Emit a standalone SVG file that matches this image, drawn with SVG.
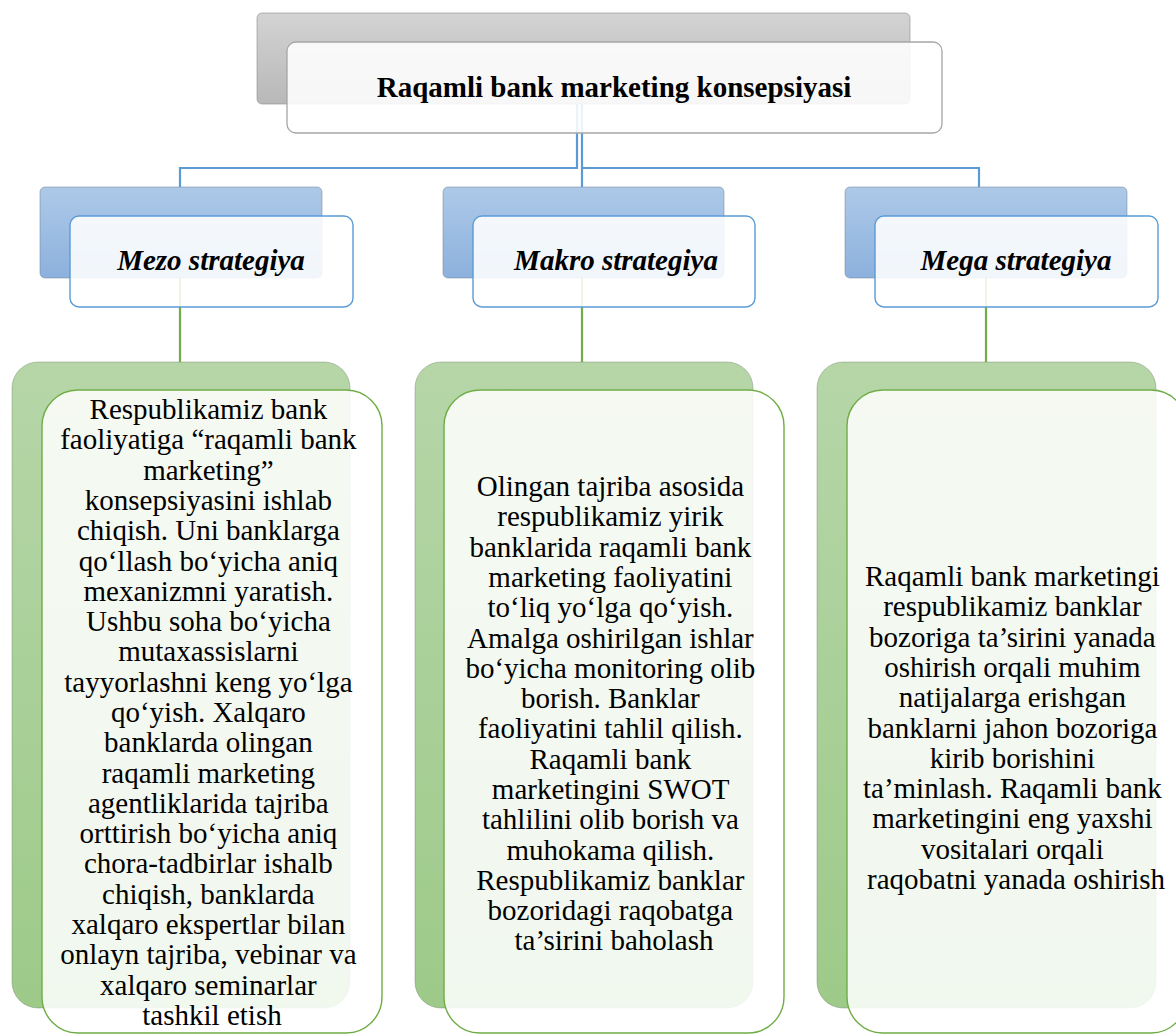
<svg xmlns="http://www.w3.org/2000/svg" width="1176" height="1035" viewBox="0 0 1176 1035">
  <defs>
    <linearGradient id="gGray" x1="0" y1="0" x2="0" y2="1">
      <stop offset="0" stop-color="#d3d3d3"/>
      <stop offset="1" stop-color="#b8b8b8"/>
    </linearGradient>
    <linearGradient id="gBlue" x1="0" y1="0" x2="0" y2="1">
      <stop offset="0" stop-color="#adc9e8"/>
      <stop offset="1" stop-color="#8cb1dd"/>
    </linearGradient>
    <linearGradient id="gGreen" x1="0" y1="0" x2="0" y2="1">
      <stop offset="0" stop-color="#b6d6a8"/>
      <stop offset="1" stop-color="#9dca89"/>
    </linearGradient>
  </defs>
  <style>
    .back-gray { fill: url(#gGray); stroke: #8c8c8c; stroke-width: 1; stroke-opacity: 0.6; }
    .back-blue { fill: url(#gBlue); stroke: #6f7f90; stroke-width: 1; stroke-opacity: 0.5; }
    .back-green { fill: url(#gGreen); stroke: #5f6f58; stroke-width: 1; stroke-opacity: 0.35; }
    .front-gray { fill: #ffffff; fill-opacity: 0.88; stroke: #a6a6a6; stroke-width: 1.3; }
    .front-blue { fill: #ffffff; fill-opacity: 0.88; stroke: #5b9bd5; stroke-width: 1.4; }
    .front-green { fill: #ffffff; fill-opacity: 0.86; stroke: #70ad47; stroke-width: 1.4; }
    .link-blue { fill: none; stroke: #5b9bd5; stroke-width: 2.2; }
    .link-green { fill: none; stroke: #70ad47; stroke-width: 2.2; }
    .title { font-family: "Liberation Serif", "Times New Roman", serif; font-size: 29px; font-weight: bold; fill: #000; text-anchor: middle; }
    .strat { font-family: "Liberation Serif", "Times New Roman", serif; font-size: 29px; font-weight: bold; font-style: italic; fill: #000; text-anchor: middle; }
    .body { font-family: "Liberation Serif", "Times New Roman", serif; font-size: 29px; fill: #000; text-anchor: middle; }
  </style>

  <!-- back plates -->
  <g id="plates">
    <rect class="back-gray" x="257" y="13" width="653" height="91" rx="5"/>
    <rect class="back-blue" x="40" y="187" width="282" height="91" rx="5"/>
    <rect class="back-blue" x="443" y="187" width="281" height="91" rx="5"/>
    <rect class="back-blue" x="845" y="187" width="282" height="91" rx="5"/>
    <rect class="back-green" x="12" y="362" width="338" height="646" rx="26"/>
    <rect class="back-green" x="415" y="362" width="338" height="646" rx="26"/>
    <rect class="back-green" x="817" y="362" width="339" height="646" rx="26"/>
  </g>

  <!-- connectors -->
  <g id="connectors">
    <path class="link-blue" d="M577,104 V168 H180 V187"/>
    <path class="link-blue" d="M582,104 V187"/>
    <path class="link-blue" d="M582,168 H979 V187"/>
    <path class="link-green" d="M180,278 V362"/>
    <path class="link-green" d="M582,278 V362"/>
    <path class="link-green" d="M986,278 V362"/>
  </g>

  <g id="root">
    <rect class="front-gray" x="287" y="42" width="655" height="91" rx="9"/>
    <text class="title" x="614" y="97">Raqamli bank marketing konsepsiyasi</text>
  </g>

  <g id="mezo">
    <rect class="front-blue" x="70" y="216" width="283" height="91" rx="9"/>
    <text class="strat" x="211" y="270">Mezo strategiya</text>
  </g>

  <g id="makro">
    <rect class="front-blue" x="473" y="216" width="282" height="91" rx="9"/>
    <text class="strat" x="616" y="270">Makro strategiya</text>
  </g>

  <g id="mega">
    <rect class="front-blue" x="875" y="216" width="283" height="91" rx="9"/>
    <text class="strat" x="1016" y="270">Mega strategiya</text>
  </g>

  <g id="mezo-detail">
    <rect class="front-green" x="42" y="390" width="340" height="643" rx="36"/>
    <text class="body">
      <tspan x="212" y="419">Respublikamiz bank</tspan>
      <tspan x="212" dy="30.3">faoliyatiga “raqamli bank</tspan>
      <tspan x="212" dy="30.3">marketing”</tspan>
      <tspan x="212" dy="30.3">konsepsiyasini ishlab</tspan>
      <tspan x="212" dy="30.3">chiqish. Uni banklarga</tspan>
      <tspan x="212" dy="30.3">qo‘llash bo‘yicha aniq</tspan>
      <tspan x="212" dy="30.3">mexanizmni yaratish.</tspan>
      <tspan x="212" dy="30.3">Ushbu soha bo‘yicha</tspan>
      <tspan x="212" dy="30.3">mutaxassislarni</tspan>
      <tspan x="212" dy="30.3">tayyorlashni keng yo‘lga</tspan>
      <tspan x="212" dy="30.3">qo‘yish. Xalqaro</tspan>
      <tspan x="212" dy="30.3">banklarda olingan</tspan>
      <tspan x="212" dy="30.3">raqamli marketing</tspan>
      <tspan x="212" dy="30.3">agentliklarida tajriba</tspan>
      <tspan x="212" dy="30.3">orttirish bo‘yicha aniq</tspan>
      <tspan x="212" dy="30.3">chora-tadbirlar ishalb</tspan>
      <tspan x="212" dy="30.3">chiqish, banklarda</tspan>
      <tspan x="212" dy="30.3">xalqaro ekspertlar bilan</tspan>
      <tspan x="212" dy="30.3">onlayn tajriba, vebinar va</tspan>
      <tspan x="212" dy="30.3">xalqaro seminarlar</tspan>
      <tspan x="212" dy="30.3">tashkil etish</tspan>
    </text>
  </g>

  <g id="makro-detail">
    <rect class="front-green" x="444" y="390" width="340" height="643" rx="36"/>
    <text class="body">
      <tspan x="614" y="496">Olingan tajriba asosida</tspan>
      <tspan x="614" dy="30.3">respublikamiz yirik</tspan>
      <tspan x="614" dy="30.3">banklarida raqamli bank</tspan>
      <tspan x="614" dy="30.3">marketing faoliyatini</tspan>
      <tspan x="614" dy="30.3">to‘liq yo‘lga qo‘yish.</tspan>
      <tspan x="614" dy="30.3">Amalga oshirilgan ishlar</tspan>
      <tspan x="614" dy="30.3">bo‘yicha monitoring olib</tspan>
      <tspan x="614" dy="30.3">borish. Banklar</tspan>
      <tspan x="614" dy="30.3">faoliyatini tahlil qilish.</tspan>
      <tspan x="614" dy="30.3">Raqamli bank</tspan>
      <tspan x="614" dy="30.3">marketingini SWOT</tspan>
      <tspan x="614" dy="30.3">tahlilini olib borish va</tspan>
      <tspan x="614" dy="30.3">muhokama qilish.</tspan>
      <tspan x="614" dy="30.3">Respublikamiz banklar</tspan>
      <tspan x="614" dy="30.3">bozoridagi raqobatga</tspan>
      <tspan x="614" dy="30.3">ta’sirini baholash</tspan>
    </text>
  </g>

  <g id="mega-detail">
    <rect class="front-green" x="847" y="390" width="340" height="643" rx="36"/>
    <text class="body">
      <tspan x="1016" y="586">Raqamli bank marketingi</tspan>
      <tspan x="1016" dy="30.3">respublikamiz banklar</tspan>
      <tspan x="1016" dy="30.3">bozoriga ta’sirini yanada</tspan>
      <tspan x="1016" dy="30.3">oshirish orqali muhim</tspan>
      <tspan x="1016" dy="30.3">natijalarga erishgan</tspan>
      <tspan x="1016" dy="30.3">banklarni jahon bozoriga</tspan>
      <tspan x="1016" dy="30.3">kirib borishini</tspan>
      <tspan x="1016" dy="30.3">ta’minlash. Raqamli bank</tspan>
      <tspan x="1016" dy="30.3">marketingini eng yaxshi</tspan>
      <tspan x="1016" dy="30.3">vositalari orqali</tspan>
      <tspan x="1016" dy="30.3">raqobatni yanada oshirish</tspan>
    </text>
  </g>
</svg>
